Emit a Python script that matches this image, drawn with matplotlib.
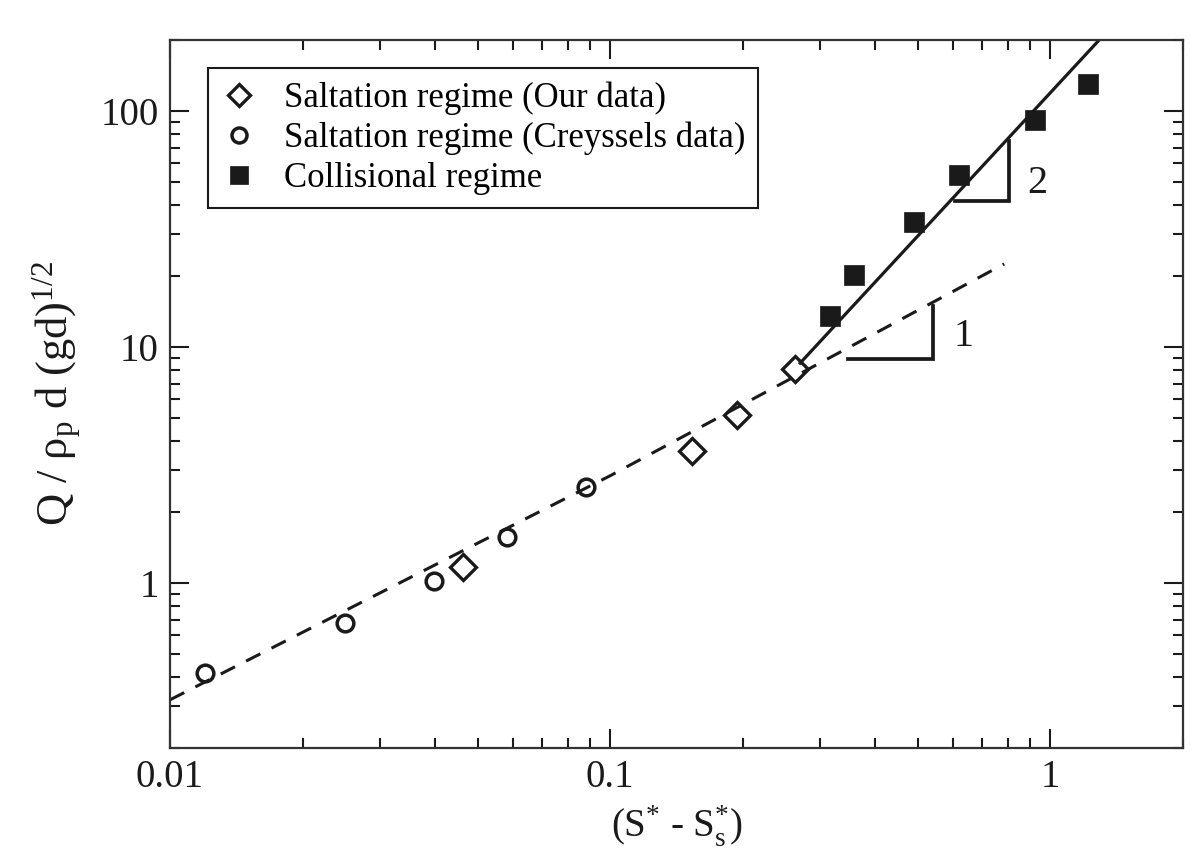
import matplotlib
matplotlib.use("Agg")
import matplotlib.pyplot as plt
from matplotlib.ticker import FixedLocator, FixedFormatter, LogLocator, NullFormatter

# ---- data ----
creyssels_x = [0.0120, 0.0250, 0.0398, 0.0583, 0.0882]
creyssels_y = [0.416, 0.678, 1.02, 1.57, 2.55]

our_x = [0.0463, 0.1536, 0.1945, 0.263]
our_y = [1.17, 3.62, 5.15, 8.07]

coll_x = [0.316, 0.358, 0.489, 0.621, 0.920, 1.22]
coll_y = [13.5, 20.2, 33.9, 53.6, 91.6, 130.0]

dashed_fit_x = [0.0100, 0.100, 0.785]
dashed_fit_y = [0.320, 2.85, 22.5]

solid_fit_x = [0.270, 1.29]
solid_fit_y = [8.55, 200.0]

tri1_x = [0.3475, 0.542, 0.542]
tri1_y = [8.89, 8.89, 14.9]
tri2_x = [0.608, 0.803, 0.803]
tri2_y = [41.6, 41.6, 74.6]

x_ticks = [0.01, 0.1, 1]
x_ticklabels = ["0.01", "0.1", "1"]
y_ticks = [1, 10, 100]
y_ticklabels = ["1", "10", "100"]

legend_labels = ["Saltation regime (Our data)",
                 "Saltation regime (Creyssels data)",
                 "Collisional regime"]

# ---- style ----
plt.rcParams['font.family'] = ['Liberation Serif', 'DejaVu Serif']
plt.rcParams['mathtext.fontset'] = 'custom'
plt.rcParams['mathtext.rm'] = 'Liberation Serif'
plt.rcParams['mathtext.it'] = 'Liberation Serif:italic'
plt.rcParams['mathtext.bf'] = 'Liberation Serif:bold'
plt.rcParams['lines.scale_dashes'] = False

ink = '#1a1a1a'

fig = plt.figure(figsize=(11.91, 8.52), dpi=100)
ax = fig.add_axes([170/1191, 1 - 748/852, (1183-170)/1191, (748-40)/852])
ax.set_xscale('log')
ax.set_yscale('log')
ax.set_xlim(0.01, 2)
ax.set_ylim(0.2, 200)

# fit lines
ax.plot(dashed_fit_x, dashed_fit_y, color=ink, lw=2.2, linestyle=(0, (11.5, 9.0)), zorder=2)
ax.plot(solid_fit_x, solid_fit_y, color=ink, lw=2.3, zorder=2)

# slope triangles
ax.plot(tri1_x, tri1_y, color=ink, lw=2.7, solid_joinstyle='miter', zorder=2)
ax.plot(tri2_x, tri2_y, color=ink, lw=2.7, solid_joinstyle='miter', zorder=2)
ax.text(0.634, 11.1, "1", fontsize=29, color=ink, ha='center', va='center')
ax.text(0.934, 49.5, "2", fontsize=29, color=ink, ha='center', va='center')

# data
h1, = ax.plot(our_x, our_y, linestyle='none', marker='D', ms=13, mfc='none',
              mec=ink, mew=2.4, zorder=3)
h2, = ax.plot(creyssels_x, creyssels_y, linestyle='none', marker='o', ms=12, mfc='none',
              mec=ink, mew=2.5, zorder=3)
h3, = ax.plot(coll_x, coll_y, linestyle='none', marker='s', ms=15, mfc=ink,
              mec=ink, mew=0.5, zorder=3)

# ticks
ax.xaxis.set_major_locator(FixedLocator(x_ticks))
ax.xaxis.set_major_formatter(FixedFormatter(x_ticklabels))
ax.yaxis.set_major_locator(FixedLocator(y_ticks))
ax.yaxis.set_major_formatter(FixedFormatter(y_ticklabels))
ax.xaxis.set_minor_locator(LogLocator(base=10, subs=range(2, 10), numticks=20))
ax.yaxis.set_minor_locator(LogLocator(base=10, subs=range(2, 10), numticks=20))
ax.xaxis.set_minor_formatter(NullFormatter())
ax.yaxis.set_minor_formatter(NullFormatter())
ax.tick_params(which='both', direction='in', top=True, right=True, colors=ink,
               labelsize=28, width=1.5, pad=8)
ax.tick_params(which='major', length=14)
ax.tick_params(which='minor', length=7)
for s in ax.spines.values():
    s.set_linewidth(1.6)
    s.set_color('#333333')

ax.set_xlabel(r'(S$^{*}$ - S$^{*}_{\mathrm{s}}$)', fontsize=28, color=ink, labelpad=5)
ax.set_ylabel(r'Q / $\mathrm{\rho_{p}}$ d (gd)$^{1/2}$', fontsize=32, color=ink, labelpad=12)

leg = ax.legend([h1, h2, h3], legend_labels, loc='upper left',
                bbox_to_anchor=(208/1191, 1 - 68/852), bbox_transform=fig.transFigure,
                fontsize=25, frameon=True, fancybox=False, framealpha=1,
                edgecolor=ink, borderpad=0.38, labelspacing=0.2,
                handlelength=1.0, handletextpad=0.8, borderaxespad=0, markerscale=0.9)
leg.get_frame().set_linewidth(1.5)

fig.savefig('out.png', dpi=100)
